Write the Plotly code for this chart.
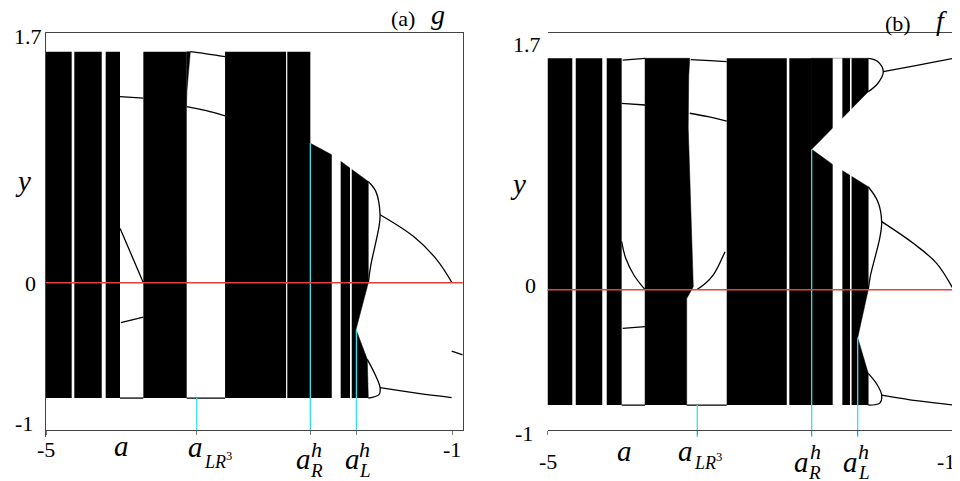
import plotly.graph_objects as go

# page layout: browser body has an 8px margin, so the figure is sized to fill the rest
OX, OY = 8, 8
FW, FH = 952, 473
FONT = "Liberation Serif"
Y_TOP = 1.571
Y_BOT = -0.783

# ---------------- panel (a): map g ----------------
g_bands = [(-5.000, -4.747), (-4.721, -4.451), (-4.412, -4.271),
           (-4.041, -3.614), (-3.236, -2.635), (-2.623, -2.396)]
g_band4_edge_a = [-3.616, -3.612, -3.600, -3.585, -3.578, -3.616]
g_band4_edge_y = [1.200, 1.300, 1.400, 1.500, Y_TOP, Y_TOP]
g_tail_a = [-2.400, -2.400, -2.185, -2.097, -1.825, -1.825, -1.946, -1.835, -1.825]
g_tail_y = [Y_BOT, 0.950, 0.870, 0.826, 0.689, 0.000, -0.317, -0.520, Y_BOT]
g_gaps = [(-2.185, -2.097), (-2.005, -1.988)]
g_branches = [
    ([-4.271, -4.041], [1.266, 1.255]),
    ([-4.270, -4.220, -4.140, -4.041], [0.370, 0.290, 0.160, 0.000]),
    ([-4.262, -4.041], [-0.271, -0.233]),
    ([-4.271, -4.041], [Y_BOT, Y_BOT]),
    ([-3.578, -3.450, -3.350, -3.236], [Y_TOP, 1.560, 1.550, 1.537]),
    ([-3.614, -3.420, -3.236], [1.198, 1.170, 1.135]),
    ([-3.614, -3.236], [Y_BOT, Y_BOT]),
    ([-1.825, -1.750, -1.709, -1.720, -1.800, -1.825], [0.689, 0.620, 0.463, 0.380, 0.120, 0.000]),
    ([-1.709, -1.381, -1.151, -1.003], [0.463, 0.316, 0.158, 0.004]),
    ([-1.835, -1.760, -1.709, -1.720, -1.825], [-0.520, -0.620, -0.712, -0.760, Y_BOT]),
    ([-1.709, -1.350, -1.004], [-0.712, -0.750, -0.780]),
    ([-1.003, -0.895], [-0.464, -0.490]),
]
g_crit_a = [-3.515, -2.396, -1.942]
g_crit_y = [Y_BOT, 0.950, -0.317]

# ---------------- panel (b): map f ----------------
f_bands = [(-5.000, -4.756), (-4.722, -4.461), (-4.417, -4.270),
           (-3.236, -2.645), (-2.620, -2.400)]
f_band4_a = [-4.040, -4.040, -3.600, -3.610, -3.615, -3.565, -3.630, -3.630]
f_band4_y = [Y_BOT, Y_TOP, Y_TOP, 1.450, 1.100, 0.020, -0.060, Y_BOT]
f_tail_a = [-2.405, -2.405, -1.843, -1.843, -2.400, -2.187, -1.843, -1.843, -1.947, -1.843, -1.843]
f_tail_y = [Y_BOT, Y_TOP, Y_TOP, 1.344, 0.953, 0.847, 0.699, 0.000, -0.326, -0.568, Y_BOT]
f_gaps = [(-2.193, -2.098), (-2.023, -2.007)]
f_branches = [
    ([-4.260, -4.040], [1.559, 1.571]),
    ([-4.270, -4.040], [1.265, 1.254]),
    ([-4.270, -4.230, -4.150, -4.040], [0.326, 0.213, 0.100, 0.000]),
    ([-4.260, -4.040], [-0.262, -0.251]),
    ([-4.270, -4.040], [Y_BOT, Y_BOT]),
    ([-3.590, -3.400, -3.236], [1.562, 1.555, 1.548]),
    ([-3.600, -3.420, -3.236], [1.198, 1.175, 1.145]),
    ([-3.253, -3.368, -3.450, -3.532], [0.258, 0.100, 0.040, 0.000]),
    ([-3.630, -3.236], [Y_BOT, Y_BOT]),
    ([-1.843, -1.750, -1.695, -1.750, -1.843], [Y_TOP, 1.550, 1.480, 1.400, 1.344]),
    ([-1.695, -1.350, -1.006, -0.940], [1.480, 1.525, 1.571, 1.580]),
    ([-1.843, -1.750, -1.711, -1.730, -1.820, -1.843], [0.699, 0.600, 0.462, 0.350, 0.100, 0.000]),
    ([-1.711, -1.400, -1.170, -1.006], [0.462, 0.315, 0.179, 0.003]),
    ([-1.843, -1.760, -1.711, -1.730, -1.843], [-0.568, -0.640, -0.715, -0.770, Y_BOT]),
    ([-1.711, -1.350, -1.006], [-0.715, -0.755, -0.783]),
    ([-1.006, -0.940], [-0.466, -0.482]),
]
f_crit_a = [-3.526, -2.400, -1.947]
f_crit_y = [Y_BOT, 0.953, -0.326]

x_ticks = [-5, -1]
y_tick_text = ["1.7", "0", "-1"]


def xp(px):
    return (px - OX) / FW


def yp(py):
    return 1 - (py - OY) / FH


def rect_poly(intervals, ylo, yhi):
    xs, ys = [], []
    for a0, a1 in intervals:
        xs += [a0, a0, a1, a1, a0, None]
        ys += [ylo, yhi, yhi, ylo, ylo, None]
    return xs, ys


fig = go.Figure()


def add_panel(xa, ya, bands, polys, gaps, branches, crit_a, crit_y):
    bx, by = rect_poly(bands, Y_BOT, Y_TOP)
    fig.add_trace(go.Scatter(x=bx, y=by, xaxis=xa, yaxis=ya, mode="lines",
                             fill="toself", fillcolor="black", line=dict(width=0, color="black"),
                             hoverinfo="skip", showlegend=False))
    for pa, py in polys:
        fig.add_trace(go.Scatter(x=pa, y=py, xaxis=xa, yaxis=ya, mode="lines",
                                 fill="toself", fillcolor="black", line=dict(width=0.5, color="black"),
                                 hoverinfo="skip", showlegend=False))
    gx, gy = rect_poly(gaps, Y_BOT, Y_TOP)
    fig.add_trace(go.Scatter(x=gx, y=gy, xaxis=xa, yaxis=ya, mode="lines",
                             fill="toself", fillcolor="white", line=dict(width=0, color="white"),
                             hoverinfo="skip", showlegend=False))
    for ba, by_ in branches:
        fig.add_trace(go.Scatter(x=ba, y=by_, xaxis=xa, yaxis=ya, mode="lines",
                                 line=dict(width=1.3, color="black", shape="spline"),
                                 hoverinfo="skip", showlegend=False))
    for ca, cy in zip(crit_a, crit_y):
        fig.add_trace(go.Scatter(x=[ca, ca], y=[cy, -1], xaxis=xa, yaxis=ya, mode="lines",
                                 line=dict(width=1.3, color="#2ee3ee"),
                                 hoverinfo="skip", showlegend=False))


add_panel("x", "y", g_bands, [(g_band4_edge_a, g_band4_edge_y), (g_tail_a, g_tail_y)], g_gaps,
          g_branches, g_crit_a, g_crit_y)
add_panel("x2", "y2", f_bands, [(f_band4_a, f_band4_y), (f_tail_a, f_tail_y)], f_gaps,
          f_branches, f_crit_a, f_crit_y)

LINE = "#444444"
common_x = dict(showgrid=False, zeroline=False, showline=True, linecolor=LINE, linewidth=1,
                ticks="outside", ticklen=4, tickcolor="#777", showticklabels=False, fixedrange=True)
common_y = dict(showgrid=False, zeroline=False, showline=True, linecolor=LINE, linewidth=1,
                ticks="", showticklabels=False, range=[-1, 1.7], fixedrange=True)

fig.update_layout(
    width=FW, height=FH, margin=dict(l=0, r=0, t=0, b=0),
    paper_bgcolor="white", plot_bgcolor="white",
    xaxis=dict(common_x, domain=[xp(46), xp(462.7)], range=[-5, -0.895],
               tickvals=x_ticks + g_crit_a, mirror=True),
    yaxis=dict(common_y, domain=[yp(430), yp(32.7)], mirror=True),
    xaxis2=dict(common_x, domain=[xp(547.5), 1.0], range=[-5, -0.940],
                tickvals=x_ticks + f_crit_a, mirror=True),
    yaxis2=dict(common_y, domain=[yp(437), yp(39.3)], mirror=False),
)

# red y = 0 lines
for xr, yr in (("x", "y"), ("x2", "y2")):
    fig.add_shape(type="line", xref=xr + " domain", yref=yr, x0=0, x1=1, y0=0, y1=0,
                  line=dict(color="#e8403a", width=1.5), layer="above")

ann = []


def A(text, x, xref, py, size, xanchor="center", xshift=0, italic=False):
    if italic:
        text = "<i>" + text + "</i>"
    ann.append(dict(text=text, x=x, xref=xref, y=yp(py), yref="paper",
                    xanchor=xanchor, yanchor="middle", xshift=xshift, showarrow=False,
                    font=dict(family=FONT, size=size, color="black")))


def Ap(text, px, py, size, italic=False, xanchor="center"):
    A(text, xp(px), "paper", py, size, xanchor=xanchor, italic=italic)


NUM = 22
ITA = 29

# y tick labels next to the axes
for txt, px, py in zip(y_tick_text, [44, 38, 35], [36, 283.3, 423.3]):
    Ap(txt, px, py, NUM, xanchor="right")
for txt, px, py in zip(y_tick_text, [543, 538, 535], [44.2, 285, 433.3]):
    Ap(txt, px, py, NUM, xanchor="right")

# axis titles / panel titles
Ap("y", 23, 181, ITA, italic=True)
Ap("y", 518, 184, ITA, italic=True)
Ap("(a)", 403, 18.5, 22)
Ap("g", 438, 14.5, 28, italic=True)
Ap("(b)", 898, 23.3, 22)
Ap("f", 941, 20.5, 28, italic=True)

# x tick labels, panel (a)
A("-5", -5, "x", 449, NUM)
A("-1", -1, "x", 449.5, NUM)
A("a", -4.254, "x", 446, ITA, italic=True)
A("a", g_crit_a[0], "x", 447, ITA, xshift=-1, italic=True)
A("<i>LR</i><sup>3</sup>", g_crit_a[0], "x", 460, 18, xanchor="left", xshift=5)
A("a", g_crit_a[1], "x", 458.7, ITA, xshift=-7, italic=True)
A("h", g_crit_a[1], "x", 449.2, 22, xanchor="left", xshift=-1, italic=True)
A("R", g_crit_a[1], "x", 470.8, 19, xanchor="left", xshift=-2, italic=True)
A("a", g_crit_a[2], "x", 458.7, ITA, xshift=-4, italic=True)
A("h", g_crit_a[2], "x", 449.2, 22, xanchor="left", xshift=1, italic=True)
A("L", g_crit_a[2], "x", 470.8, 19, xanchor="left", xshift=1, italic=True)

# x tick labels, panel (b)
A("-5", -5, "x2", 461.7, NUM)
A("-1", -1, "x2", 461, NUM, xshift=-8)
A("a", -4.247, "x2", 451, ITA, italic=True)
A("a", f_crit_a[0], "x2", 451, ITA, xshift=-12, italic=True)
A("<i>LR</i><sup>3</sup>", f_crit_a[0], "x2", 461, 18, xanchor="left", xshift=-5)
A("a", f_crit_a[1], "x2", 462, ITA, xshift=-10, italic=True)
A("h", f_crit_a[1], "x2", 451.7, 22, xanchor="left", xshift=-4, italic=True)
A("R", f_crit_a[1], "x2", 472.5, 19, xanchor="left", xshift=-6, italic=True)
A("a", f_crit_a[2], "x2", 462, ITA, xshift=-7, italic=True)
A("h", f_crit_a[2], "x2", 451.7, 22, xanchor="left", xshift=-2, italic=True)
A("L", f_crit_a[2], "x2", 472.5, 19, xanchor="left", xshift=-2, italic=True)

fig.update_layout(annotations=ann)
fig.write_html("out.html")
